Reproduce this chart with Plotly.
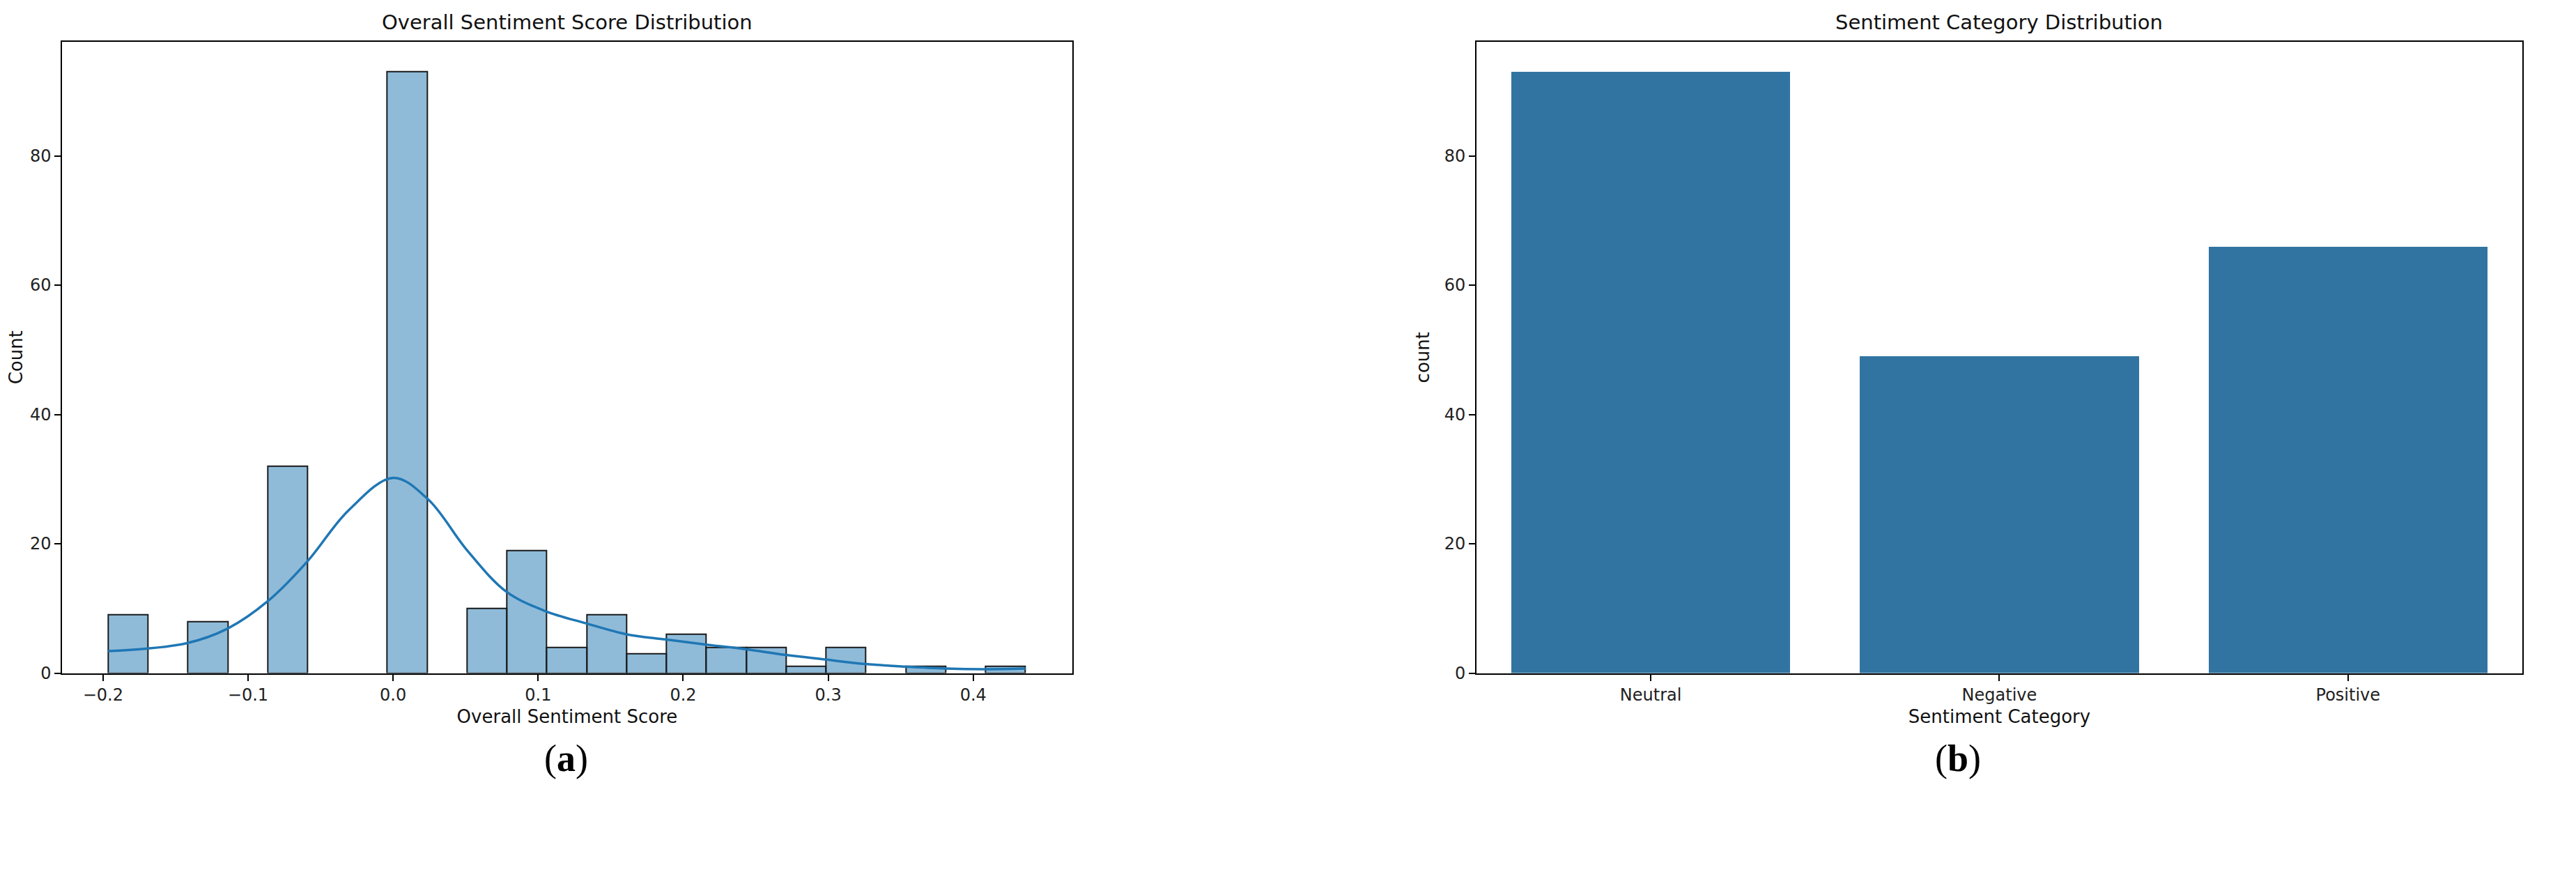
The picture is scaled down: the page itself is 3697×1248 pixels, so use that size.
import plotly.graph_objects as go

# histogram bins (23 bins of equal width); None = empty bin
bin_start = -0.1965
bin_width = 0.0275
bin_counts = [9, None, 8, None, 32, None, None, 93, None, 10, 19, 4, 9, 3, 6, 4, 4, 1, 4, None, 1, None, 1]

# KDE curve
kde_x = [-0.1965, -0.143, -0.114, -0.086, -0.059, -0.031, 0.0, 0.024, 0.051, 0.078,
         0.105, 0.133, 0.161, 0.188, 0.216, 0.243, 0.271, 0.298, 0.326, 0.353,
         0.381, 0.408, 0.436]
kde_y = [3.4, 4.6, 6.9, 11.2, 17.3, 25.1, 30.2, 26.9, 19.0, 12.6,
         9.6, 7.7, 6.0, 5.2, 4.4, 3.7, 2.8, 2.1, 1.4, 1.0,
         0.7, 0.6, 0.7]

categories = ["Neutral", "Negative", "Positive"]
cat_counts = [93, 49, 66]

bin_centers = [bin_start + bin_width * (i + 0.5) for i in range(len(bin_counts))]

FONT = "DejaVu Sans"
fig = go.Figure()

fig.add_trace(go.Bar(
    x=bin_centers, y=bin_counts, width=bin_width,
    marker=dict(color="rgba(31,119,180,0.5)", line=dict(color="#1a1a1a", width=2)),
    xaxis="x", yaxis="y", showlegend=False,
))
fig.add_trace(go.Scatter(
    x=kde_x, y=kde_y, mode="lines", line=dict(color="#1f77b4", width=3.5, shape="spline"),
    xaxis="x", yaxis="y", showlegend=False,
))
fig.add_trace(go.Bar(
    x=categories, y=cat_counts, width=0.8,
    marker=dict(color="#3274a1", line=dict(width=0)),
    xaxis="x2", yaxis="y2", showlegend=False,
))

axis_common = dict(
    showline=True, linecolor="black", linewidth=2, mirror=True,
    ticks="outside", ticklen=9, tickwidth=2, tickcolor="black",
    showgrid=False, zeroline=False,
    tickfont=dict(family=FONT, size=24, color="#222"),
)
title_font = dict(family=FONT, size=26, color="#111")

fig.update_layout(
    width=3697, height=1248,
    paper_bgcolor="white", plot_bgcolor="white",
    margin=dict(l=0, r=0, t=0, b=0),
    bargap=0,
    xaxis=dict(domain=[0.022, 0.414], range=[-0.2281, 0.4681],
               tickvals=[-0.2, -0.1, 0.0, 0.1, 0.2, 0.3, 0.4],
               ticktext=["\u22120.2", "\u22120.1", "0.0", "0.1", "0.2", "0.3", "0.4"],
               title=dict(text="Overall Sentiment Score", font=title_font, standoff=8),
               anchor="y", **axis_common),
    yaxis=dict(domain=[0.224, 0.958], range=[0, 97.65], tickvals=[0, 20, 40, 60, 80],
               title=dict(text="Count", font=title_font, standoff=14),
               anchor="x", **axis_common),
    xaxis2=dict(domain=[0.571, 0.977], range=[-0.5, 2.5],
                title=dict(text="Sentiment Category", font=title_font, standoff=8),
                anchor="y2", **axis_common),
    yaxis2=dict(domain=[0.224, 0.958], range=[0, 97.65], tickvals=[0, 20, 40, 60, 80],
                title=dict(text="count", font=title_font, standoff=14),
                anchor="x2", **axis_common),
    annotations=[
        dict(text="Overall Sentiment Score Distribution", x=0.218, y=0.965, xref="paper", yref="paper",
             xanchor="center", yanchor="bottom", showarrow=False, font=dict(family=FONT, size=29, color="#111")),
        dict(text="Sentiment Category Distribution", x=0.774, y=0.965, xref="paper", yref="paper",
             xanchor="center", yanchor="bottom", showarrow=False, font=dict(family=FONT, size=29, color="#111")),
        dict(text="(<b>a</b>)", x=0.2175, y=0.125, xref="paper", yref="paper",
             xanchor="center", yanchor="middle", showarrow=False,
             font=dict(family="Liberation Serif", size=54, color="black")),
        dict(text="(<b>b</b>)", x=0.758, y=0.125, xref="paper", yref="paper",
             xanchor="center", yanchor="middle", showarrow=False,
             font=dict(family="Liberation Serif", size=54, color="black")),
    ],
)

fig.write_html("out.html")
